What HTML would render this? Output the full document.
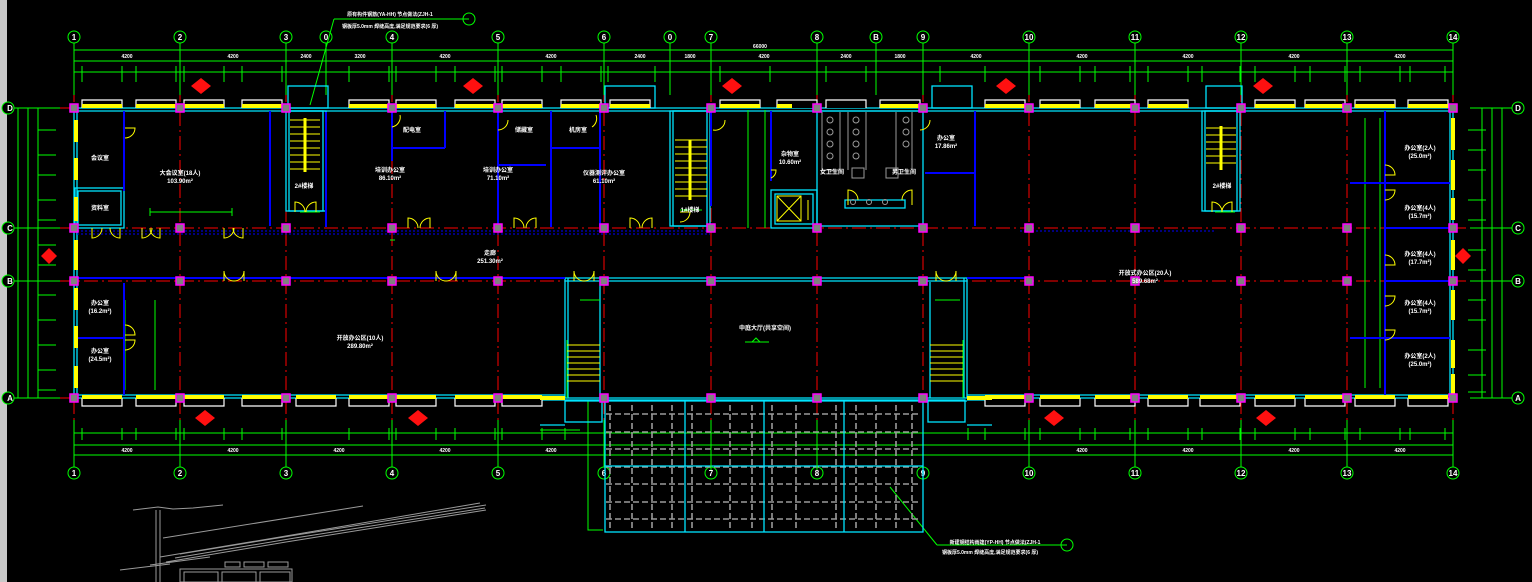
<!DOCTYPE html>
<html><head><meta charset="utf-8"><style>
html,body{margin:0;padding:0;background:#000;}
svg{display:block}
text{font-family:"Liberation Sans","Noto Sans CJK SC",sans-serif;fill:#fff;font-weight:bold;}
</style></head><body>
<svg width="1532" height="582" viewBox="0 0 1532 582" xmlns="http://www.w3.org/2000/svg">
<rect width="1532" height="582" fill="#000"/>
<rect x="0" y="0" width="7" height="582" fill="#c8c8c8"/>

<g stroke="#ff0000" stroke-width="1" stroke-dasharray="14,4,2,4" fill="none">
<line x1="74" y1="88" x2="74" y2="420"/><line x1="180" y1="88" x2="180" y2="420"/><line x1="286" y1="88" x2="286" y2="420"/>
<line x1="392" y1="88" x2="392" y2="420"/><line x1="498" y1="88" x2="498" y2="420"/><line x1="604" y1="88" x2="604" y2="420"/>
<line x1="711" y1="88" x2="711" y2="420"/><line x1="817" y1="88" x2="817" y2="420"/><line x1="923" y1="88" x2="923" y2="420"/>
<line x1="1029" y1="88" x2="1029" y2="420"/><line x1="1135" y1="88" x2="1135" y2="420"/><line x1="1241" y1="88" x2="1241" y2="420"/>
<line x1="1347" y1="88" x2="1347" y2="420"/><line x1="1453" y1="88" x2="1453" y2="420"/>
<line x1="60" y1="228" x2="1470" y2="228"/><line x1="60" y1="281" x2="1470" y2="281"/>
<line x1="60" y1="108" x2="74" y2="108"/><line x1="60" y1="398" x2="74" y2="398"/>
</g>

<g stroke="#00ff00" stroke-width="1" fill="none">
<line x1="74" y1="50" x2="1453" y2="50"/><line x1="74" y1="61" x2="1453" y2="61"/><line x1="74" y1="72" x2="1453" y2="72"/>
<line x1="74" y1="433" x2="1453" y2="433"/><line x1="74" y1="445" x2="1453" y2="445"/><line x1="74" y1="455" x2="1453" y2="455"/>
<line x1="74" y1="43" x2="74" y2="95"/><line x1="180" y1="43" x2="180" y2="95"/><line x1="286" y1="43" x2="286" y2="95"/><line x1="326" y1="43" x2="326" y2="95"/>
<line x1="392" y1="43" x2="392" y2="95"/><line x1="498" y1="43" x2="498" y2="95"/><line x1="604" y1="43" x2="604" y2="95"/><line x1="670" y1="43" x2="670" y2="95"/>
<line x1="711" y1="43" x2="711" y2="95"/><line x1="817" y1="43" x2="817" y2="95"/><line x1="876" y1="43" x2="876" y2="95"/><line x1="923" y1="43" x2="923" y2="95"/>
<line x1="1029" y1="43" x2="1029" y2="95"/><line x1="1135" y1="43" x2="1135" y2="95"/><line x1="1241" y1="43" x2="1241" y2="95"/><line x1="1347" y1="43" x2="1347" y2="95"/><line x1="1453" y1="43" x2="1453" y2="95"/>
<line x1="74" y1="420" x2="74" y2="467"/><line x1="180" y1="420" x2="180" y2="467"/><line x1="286" y1="420" x2="286" y2="467"/><line x1="392" y1="420" x2="392" y2="467"/>
<line x1="498" y1="420" x2="498" y2="467"/><line x1="604" y1="420" x2="604" y2="467"/><line x1="711" y1="420" x2="711" y2="467"/><line x1="817" y1="420" x2="817" y2="467"/>
<line x1="923" y1="420" x2="923" y2="467"/><line x1="1029" y1="420" x2="1029" y2="467"/><line x1="1135" y1="420" x2="1135" y2="467"/><line x1="1241" y1="420" x2="1241" y2="467"/>
<line x1="1347" y1="420" x2="1347" y2="467"/><line x1="1453" y1="420" x2="1453" y2="467"/>
<line x1="8" y1="108" x2="60" y2="108"/><line x1="8" y1="228" x2="60" y2="228"/><line x1="8" y1="281" x2="60" y2="281"/><line x1="8" y1="398" x2="60" y2="398"/>
<line x1="18" y1="108" x2="18" y2="398"/><line x1="28" y1="108" x2="28" y2="398"/><line x1="38" y1="108" x2="38" y2="398"/>
<line x1="1470" y1="108" x2="1512" y2="108"/><line x1="1470" y1="228" x2="1512" y2="228"/><line x1="1470" y1="281" x2="1512" y2="281"/><line x1="1470" y1="398" x2="1512" y2="398"/>
<line x1="1482" y1="108" x2="1482" y2="398"/><line x1="1492" y1="108" x2="1492" y2="398"/><line x1="1502" y1="108" x2="1502" y2="398"/>
<path d="M82 66v16M122 66v16M136 66v16M176 66v16M184 66v16M224 66v16M242 66v16M282 66v16M349 66v16M389 66v16M396 66v16M436 66v16M455 66v16M495 66v16M502 66v16M542 66v16M561 66v16M601 66v16M608 66v16M655 66v16M720 66v16M770 66v16M826 66v16M866 66v16M940 66v16M985 66v16M1040 66v16M1080 66v16M1095 66v16M1130 66v16M1148 66v16M1188 66v16M1202 66v16M1240 66v16M1255 66v16M1295 66v16M1310 66v16M1345 66v16M1360 66v16M1400 66v16M1410 66v16M1445 66v16"/>
<path d="M82 428v12M122 428v12M136 428v12M176 428v12M184 428v12M224 428v12M242 428v12M282 428v12M349 428v12M389 428v12M396 428v12M436 428v12M455 428v12M495 428v12M502 428v12M542 428v12M565 428v12M968 428v12M985 428v12M1025 428v12M1040 428v12M1080 428v12M1095 428v12M1130 428v12M1148 428v12M1188 428v12M1202 428v12M1240 428v12M1255 428v12M1295 428v12M1310 428v12M1345 428v12M1360 428v12M1400 428v12M1410 428v12M1445 428v12"/>
<path d="M38 130h18M38 155h18M38 175h18M38 200h18M38 220h18M38 245h18M38 265h18M38 295h18M38 320h18M38 345h18M38 370h18M38 390h18"/>
<path d="M1468 130h18M1468 150h18M1468 170h18M1468 200h18M1468 220h18M1468 250h18M1468 270h18M1468 300h18M1468 320h18M1468 350h18M1468 375h18M1468 392h18"/>
<g fill="#000">
<circle cx="74" cy="37" r="6"/><circle cx="180" cy="37" r="6"/><circle cx="286" cy="37" r="6"/><circle cx="326" cy="37" r="6"/><circle cx="392" cy="37" r="6"/>
<circle cx="498" cy="37" r="6"/><circle cx="604" cy="37" r="6"/><circle cx="670" cy="37" r="6"/><circle cx="711" cy="37" r="6"/><circle cx="817" cy="37" r="6"/>
<circle cx="876" cy="37" r="6"/><circle cx="923" cy="37" r="6"/><circle cx="1029" cy="37" r="6"/><circle cx="1135" cy="37" r="6"/><circle cx="1241" cy="37" r="6"/>
<circle cx="1347" cy="37" r="6"/><circle cx="1453" cy="37" r="6"/>
<circle cx="74" cy="473" r="6"/><circle cx="180" cy="473" r="6"/><circle cx="286" cy="473" r="6"/><circle cx="392" cy="473" r="6"/><circle cx="498" cy="473" r="6"/>
<circle cx="604" cy="473" r="6"/><circle cx="711" cy="473" r="6"/><circle cx="817" cy="473" r="6"/><circle cx="923" cy="473" r="6"/><circle cx="1029" cy="473" r="6"/>
<circle cx="1135" cy="473" r="6"/><circle cx="1241" cy="473" r="6"/><circle cx="1347" cy="473" r="6"/><circle cx="1453" cy="473" r="6"/>
<circle cx="8" cy="108" r="6"/><circle cx="8" cy="228" r="6"/><circle cx="8" cy="281" r="6"/><circle cx="8" cy="398" r="6"/>
<circle cx="1518" cy="108" r="6"/><circle cx="1518" cy="228" r="6"/><circle cx="1518" cy="281" r="6"/><circle cx="1518" cy="398" r="6"/>
<circle cx="1067" cy="545" r="6"/><circle cx="469" cy="19" r="6"/>
</g>
<path d="M334 19h135M334 19L310 105"/>
<path d="M1067 545h-130M937 545L890 487"/>
<path d="M588 400v130h15M540 430h40"/>
</g>
<g font-size="8" fill="#fff" text-anchor="middle">
<text x="74" y="40">1</text><text x="180" y="40">2</text><text x="286" y="40">3</text><text x="326" y="40">0</text><text x="392" y="40">4</text>
<text x="498" y="40">5</text><text x="604" y="40">6</text><text x="670" y="40">0</text><text x="711" y="40">7</text><text x="817" y="40">8</text>
<text x="876" y="40">B</text><text x="923" y="40">9</text><text x="1029" y="40">10</text><text x="1135" y="40">11</text><text x="1241" y="40">12</text>
<text x="1347" y="40">13</text><text x="1453" y="40">14</text>
<text x="74" y="476">1</text><text x="180" y="476">2</text><text x="286" y="476">3</text><text x="392" y="476">4</text><text x="498" y="476">5</text>
<text x="604" y="476">6</text><text x="711" y="476">7</text><text x="817" y="476">8</text><text x="923" y="476">9</text><text x="1029" y="476">10</text>
<text x="1135" y="476">11</text><text x="1241" y="476">12</text><text x="1347" y="476">13</text><text x="1453" y="476">14</text>
<text x="10" y="111">D</text><text x="10" y="231">C</text><text x="10" y="284">B</text><text x="10" y="401">A</text>
<text x="1518" y="111">D</text><text x="1518" y="231">C</text><text x="1518" y="284">B</text><text x="1518" y="401">A</text>
</g>
<g font-size="5" fill="#fff" text-anchor="middle">
<text x="760" y="48">66000</text>
<text x="127" y="58">4200</text><text x="233" y="58">4200</text><text x="306" y="58">2400</text><text x="360" y="58">3200</text><text x="445" y="58">4200</text>
<text x="551" y="58">4200</text><text x="640" y="58">2400</text><text x="690" y="58">1800</text><text x="764" y="58">4200</text><text x="846" y="58">2400</text>
<text x="900" y="58">1800</text><text x="976" y="58">4200</text><text x="1082" y="58">4200</text><text x="1188" y="58">4200</text><text x="1294" y="58">4200</text><text x="1400" y="58">4200</text>
<text x="127" y="452">4200</text><text x="233" y="452">4200</text><text x="339" y="452">4200</text><text x="445" y="452">4200</text><text x="551" y="452">4200</text>
<text x="1082" y="452">4200</text><text x="1188" y="452">4200</text><text x="1294" y="452">4200</text><text x="1400" y="452">4200</text>
<text x="390" y="16">原有构件钢筋(YA-HH)  节点做法(ZJH-1</text><text x="390" y="28">钢板厚5.0mm  焊缝高度,满足规范要求(6 厚)</text>
<text x="995" y="544">新建钢结构雨篷(YP-HH)  节点做法(ZJH-1</text><text x="990" y="554">钢板厚5.0mm  焊缝高度,满足规范要求(6 厚)</text>
</g>

<g stroke="#9a9a9a" stroke-width="1.6" stroke-dasharray="6,3" fill="none">
<path d="M610 405v125M632 405v125M652 405v125M672 405v125M692 405v125M730 405v125M752 405v125M772 405v125M796 405v125M836 405v125M856 405v125M876 405v125M896 405v125M912 405v125"/>
<path d="M606 414h314M606 432h314M606 449h314M606 467h314M606 484h314M606 502h314M606 519h314"/>
</g>
<g stroke="#00e5ff" stroke-width="1.3" fill="none">
<rect x="605" y="400" width="318" height="132"/>
<path d="M685 400v132M764 400v132M844 400v132M605 466h318"/>
</g>
<g stroke="#00ff00" fill="none"><path d="M711 440v30M817 440v30"/></g>

<g stroke="#00e5ff" stroke-width="1.3" fill="none">
<path d="M74 108h1379M74 111h1379M74 398h491M967 398h486M74 395h491M967 395h486M74 108v290M77 108v290M1453 108v290M1450 108v290"/>
<path d="M565 278h402M565 281h402M565 278v120M568 278v120M967 278v120M964 278v120M600 282v116M930 282v116"/>
<path d="M565 398h402M565 401h402"/>
<rect x="565" y="400" width="37" height="22"/><rect x="928" y="400" width="37" height="22"/>
<path d="M540 400h25M540 425h25M967 400h25M967 425h25"/>
<rect x="286" y="111" width="40" height="100"/><rect x="289" y="111" width="34" height="100"/>
<rect x="670" y="111" width="40" height="115"/><rect x="673" y="111" width="34" height="115"/>
<rect x="1202" y="111" width="38" height="100"/><rect x="1205" y="111" width="32" height="100"/>
<rect x="817" y="111" width="106" height="115"/><rect x="771" y="190" width="46" height="38"/><rect x="775" y="194" width="38" height="30"/>
<path d="M845 200h60v8h-60z"/>
<rect x="75" y="188" width="49" height="40"/><rect x="78" y="191" width="43" height="34"/>
<rect x="932" y="86" width="40" height="22"/><rect x="288" y="86" width="40" height="22"/><rect x="605" y="86" width="50" height="22"/><rect x="1206" y="86" width="36" height="22"/>
</g>
<g stroke="#00ff00" stroke-width="1" fill="none">
<path d="M300 212h20M680 210h22M1215 212h20M748 110v118M765 110v118M1380 118v270M1365 118v270"/>
<path d="M150 212h82M150 208v8M232 208v8M390 240h5M125 300v90M155 300v90M567 340v58M963 340v58M580 300h20M935 300h25"/>
</g>

<g stroke="#0000ff" stroke-width="2" fill="none">
<path d="M77 278h488M967 278h62"/>
<path d="M124 111v80M392 111v50M392 148h53M445 111v37M498 165h48M551 111v116M600 111v116M551 148h49M498 111v116"/>
<path d="M270 111v115M326 112v115M711 111v95"/>
<path d="M771 111v70M975 111v115M925 173h50"/>
<path d="M124 283v112M77 338h47"/>
<path d="M1385 111v287M1385 183h65M1385 228h65M1385 281h65M1385 338h65"/>
<path d="M1350 183h35M1350 338h35"/>
</g>
<g stroke="#0000ff" stroke-width="1" stroke-dasharray="2,2" fill="none"><path d="M77 231h633M77 234h633M1020 231h195"/></g>

<g stroke="#ffff00" stroke-width="1" fill="none">
<path d="M290 120h30M290 127h30M290 134h30M290 141h30M290 148h30M290 155h30M290 162h30M290 169h30"/><line x1="305" y1="118" x2="305" y2="172" stroke-width="3"/>
<path d="M675 140h32M675 147h32M675 154h32M675 161h32M675 168h32M675 175h32M675 182h32M675 189h32M675 196h32"/><line x1="690" y1="140" x2="690" y2="200" stroke-width="3"/>
<path d="M1206 128h30M1206 135h30M1206 142h30M1206 149h30M1206 156h30M1206 163h30"/><line x1="1221" y1="126" x2="1221" y2="170" stroke-width="3"/>
<path d="M567 345h33M567 351h33M567 357h33M567 363h33M567 369h33M567 375h33M567 381h33"/>
<path d="M930 345h33M930 351h33M930 357h33M930 363h33M930 369h33M930 375h33M930 381h33"/>
<rect x="777" y="196" width="24" height="25"/><path d="M777 196l24 25M801 196l-24 25M808 200v20"/>
<path d="M295 212v-10a10 10 0 0 1 10 10M316 212v-10a10 10 0 0 0 -10 10"/>
<path d="M1212 212v-10a10 10 0 0 1 10 10M1232 212v-10a10 10 0 0 0 -10 10"/>
<path d="M92 228v10a10 10 0 0 0 10 -10M120 228v10a10 10 0 0 1 -10 -10"/>
<path d="M142 228v10a10 10 0 0 0 10 -10M160 228v10a10 10 0 0 1 -10 -10"/>
<path d="M224 228v10a10 10 0 0 0 10 -10M243 228v10a10 10 0 0 1 -10 -10"/>
<path d="M408 228v-10a10 10 0 0 1 10 10M430 228v-10a10 10 0 0 0 -10 10"/>
<path d="M514 228v-10a10 10 0 0 1 10 10M536 228v-10a10 10 0 0 0 -10 10"/>
<path d="M630 228v-10a10 10 0 0 1 10 10M652 228v-10a10 10 0 0 0 -10 10"/>
<path d="M224 281v-10a10 10 0 0 0 10 10M244 281v-10a10 10 0 0 1 -10 10"/>
<path d="M436 281v-10a10 10 0 0 0 10 10M456 281v-10a10 10 0 0 1 -10 10"/>
<path d="M574 281v-10a10 10 0 0 0 10 10M594 281v-10a10 10 0 0 1 -10 10"/>
<path d="M936 281v-10a10 10 0 0 0 10 10M956 281v-10a10 10 0 0 1 -10 10"/>
<path d="M125 128h10a10 10 0 0 1 -10 10"/><path d="M400 115a10 10 0 0 1 -8 12"/><path d="M508 120a10 10 0 0 1 -10 10"/><path d="M596 115a10 10 0 0 1 -4 12"/>
<path d="M125 335h10a10 10 0 0 0 -10 -10M125 340h10a10 10 0 0 1 -10 10"/>
<path d="M1385 175h10a10 10 0 0 0 -10 -10M1385 190h10a10 10 0 0 1 -10 10M1385 265h10a10 10 0 0 0 -10 -10M1385 296h10a10 10 0 0 1 -10 10M1385 330h10a10 10 0 0 1 -10 10"/>
<path d="M771 170h5a8 8 0 0 1 -5 8"/><path d="M848 205v-15a10 10 0 0 1 10 10"/><path d="M912 205v-15a10 10 0 0 0 -10 10"/>
<path d="M725 120a10 10 0 0 1 -12 10"/><path d="M930 120a10 10 0 0 1 -10 10"/><path d="M680 212h10a10 10 0 0 1 -10 10"/>
</g>
<g stroke="#9a9a9a" stroke-width="1" fill="none">
<path d="M822 112v58h18v-58M848 112v58M866 112v58M896 112v58M912 112v58"/>
<circle cx="830" cy="120" r="3"/><circle cx="830" cy="132" r="3"/><circle cx="830" cy="144" r="3"/><circle cx="830" cy="156" r="3"/>
<circle cx="856" cy="120" r="3"/><circle cx="856" cy="132" r="3"/><circle cx="856" cy="144" r="3"/><circle cx="856" cy="156" r="3"/>
<circle cx="906" cy="120" r="3"/><circle cx="906" cy="132" r="3"/><circle cx="906" cy="144" r="3"/>
<rect x="852" y="168" width="12" height="10"/><rect x="886" y="168" width="12" height="10"/>
<circle cx="853" cy="202" r="2.5"/><circle cx="869" cy="202" r="2.5"/><circle cx="885" cy="202" r="2.5"/>
</g>

<g fill="#000" stroke="#fff" stroke-width="1.2">
<path d="M82 108v-8h40v8M136 108v-8h40v8M184 108v-8h40v8M242 108v-8h40v8M349 108v-8h40v8M396 108v-8h40v8M455 108v-8h40v8M502 108v-8h40v8M561 108v-8h40v8M610 108v-8h40v8M720 108v-8h40v8M777 108v-8h40v8M826 108v-8h40v8M880 108v-8h40v8M985 108v-8h40v8M1040 108v-8h40v8M1095 108v-8h40v8M1148 108v-8h40v8M1255 108v-8h40v8M1305 108v-8h40v8M1355 108v-8h40v8M1408 108v-8h40v8"/>
<path d="M82 398v8h40v-8M136 398v8h40v-8M184 398v8h40v-8M242 398v8h40v-8M296 398v8h40v-8M349 398v8h40v-8M396 398v8h40v-8M455 398v8h40v-8M502 398v8h40v-8M985 398v8h40v-8M1040 398v8h40v-8M1095 398v8h40v-8M1148 398v8h40v-8M1200 398v8h40v-8M1255 398v8h40v-8M1305 398v8h40v-8M1355 398v8h40v-8M1408 398v8h40v-8"/>
</g>
<g fill="#ffff00">
<rect x="82" y="104" width="40" height="4"/><rect x="136" y="104" width="40" height="4"/><rect x="184" y="104" width="40" height="4"/><rect x="242" y="104" width="40" height="4"/>
<rect x="349" y="104" width="40" height="4"/><rect x="396" y="104" width="40" height="4"/><rect x="455" y="104" width="40" height="4"/><rect x="502" y="104" width="40" height="4"/>
<rect x="561" y="104" width="40" height="4"/><rect x="610" y="104" width="40" height="4"/><rect x="720" y="104" width="40" height="4"/><rect x="777" y="104" width="15" height="4"/>
<rect x="880" y="104" width="40" height="4"/><rect x="985" y="104" width="40" height="4"/><rect x="1040" y="104" width="40" height="4"/><rect x="1095" y="104" width="40" height="4"/>
<rect x="1148" y="104" width="40" height="4"/><rect x="1255" y="104" width="40" height="4"/><rect x="1305" y="104" width="40" height="4"/><rect x="1355" y="104" width="40" height="4"/><rect x="1408" y="104" width="40" height="4"/>
<rect x="82" y="395" width="40" height="4"/><rect x="136" y="395" width="40" height="4"/><rect x="184" y="395" width="40" height="4"/><rect x="242" y="395" width="40" height="4"/>
<rect x="296" y="395" width="40" height="4"/><rect x="349" y="395" width="40" height="4"/><rect x="396" y="395" width="40" height="4"/><rect x="455" y="395" width="40" height="4"/><rect x="502" y="395" width="40" height="4"/>
<rect x="985" y="395" width="40" height="4"/><rect x="1040" y="395" width="40" height="4"/><rect x="1095" y="395" width="40" height="4"/><rect x="1148" y="395" width="40" height="4"/>
<rect x="1200" y="395" width="40" height="4"/><rect x="1255" y="395" width="40" height="4"/><rect x="1305" y="395" width="40" height="4"/><rect x="1355" y="395" width="40" height="4"/><rect x="1408" y="395" width="40" height="4"/>
<rect x="74" y="120" width="4" height="22"/><rect x="74" y="158" width="4" height="22"/><rect x="74" y="197" width="4" height="24"/><rect x="74" y="240" width="4" height="30"/>
<rect x="74" y="288" width="4" height="22"/><rect x="74" y="326" width="4" height="22"/><rect x="74" y="366" width="4" height="22"/>
<rect x="1451" y="118" width="4" height="32"/><rect x="1451" y="160" width="4" height="30"/><rect x="1451" y="198" width="4" height="22"/><rect x="1451" y="240" width="4" height="30"/>
<rect x="1451" y="290" width="4" height="30"/><rect x="1451" y="340" width="4" height="28"/><rect x="1451" y="374" width="4" height="20"/>
<rect x="540" y="396" width="25" height="4"/><rect x="967" y="396" width="25" height="4"/>
</g>

<g fill="#808080" stroke="#ff00ff" stroke-width="1.5">
<rect x="70" y="104" width="8" height="8"/><rect x="176" y="104" width="8" height="8"/><rect x="282" y="104" width="8" height="8"/><rect x="388" y="104" width="8" height="8"/><rect x="494" y="104" width="8" height="8"/><rect x="600" y="104" width="8" height="8"/><rect x="707" y="104" width="8" height="8"/><rect x="813" y="104" width="8" height="8"/><rect x="919" y="104" width="8" height="8"/><rect x="1025" y="104" width="8" height="8"/><rect x="1131" y="104" width="8" height="8"/><rect x="1237" y="104" width="8" height="8"/><rect x="1343" y="104" width="8" height="8"/><rect x="1449" y="104" width="8" height="8"/>
<rect x="70" y="224" width="8" height="8"/><rect x="176" y="224" width="8" height="8"/><rect x="282" y="224" width="8" height="8"/><rect x="388" y="224" width="8" height="8"/><rect x="494" y="224" width="8" height="8"/><rect x="600" y="224" width="8" height="8"/><rect x="707" y="224" width="8" height="8"/><rect x="813" y="224" width="8" height="8"/><rect x="919" y="224" width="8" height="8"/><rect x="1025" y="224" width="8" height="8"/><rect x="1131" y="224" width="8" height="8"/><rect x="1237" y="224" width="8" height="8"/><rect x="1343" y="224" width="8" height="8"/><rect x="1449" y="224" width="8" height="8"/>
<rect x="70" y="277" width="8" height="8"/><rect x="176" y="277" width="8" height="8"/><rect x="282" y="277" width="8" height="8"/><rect x="388" y="277" width="8" height="8"/><rect x="494" y="277" width="8" height="8"/><rect x="600" y="277" width="8" height="8"/><rect x="707" y="277" width="8" height="8"/><rect x="813" y="277" width="8" height="8"/><rect x="919" y="277" width="8" height="8"/><rect x="1025" y="277" width="8" height="8"/><rect x="1131" y="277" width="8" height="8"/><rect x="1237" y="277" width="8" height="8"/><rect x="1343" y="277" width="8" height="8"/><rect x="1449" y="277" width="8" height="8"/>
<rect x="70" y="394" width="8" height="8"/><rect x="176" y="394" width="8" height="8"/><rect x="282" y="394" width="8" height="8"/><rect x="388" y="394" width="8" height="8"/><rect x="494" y="394" width="8" height="8"/><rect x="600" y="394" width="8" height="8"/><rect x="707" y="394" width="8" height="8"/><rect x="813" y="394" width="8" height="8"/><rect x="919" y="394" width="8" height="8"/><rect x="1025" y="394" width="8" height="8"/><rect x="1131" y="394" width="8" height="8"/><rect x="1237" y="394" width="8" height="8"/><rect x="1343" y="394" width="8" height="8"/><rect x="1449" y="394" width="8" height="8"/>
</g>

<g fill="#ff1010">
<path d="M201 78l10 8-10 8-10-8z"/><path d="M473 78l10 8-10 8-10-8z"/><path d="M732 78l10 8-10 8-10-8z"/><path d="M1006 78l10 8-10 8-10-8z"/><path d="M1263 78l10 8-10 8-10-8z"/>
<path d="M205 410l10 8-10 8-10-8z"/><path d="M418 410l10 8-10 8-10-8z"/><path d="M1054 410l10 8-10 8-10-8z"/><path d="M1266 410l10 8-10 8-10-8z"/>
<path d="M49 248l8 8-8 8-8-8z"/><path d="M1463 248l8 8-8 8-8-8z"/>
</g>

<g font-size="6" fill="#fff" text-anchor="middle">
<text x="100" y="160">会议室</text><text x="100" y="210">资料室</text>
<text x="180" y="175">大会议室(18人)</text><text x="180" y="183">103.90m²</text>
<text x="390" y="172">培训办公室</text><text x="390" y="180">86.10m²</text>
<text x="498" y="172">培训办公室</text><text x="498" y="180">71.10m²</text>
<text x="604" y="175">仪器测评办公室</text><text x="604" y="183">61.10m²</text>
<text x="412" y="132">配电室</text><text x="524" y="132">储藏室</text><text x="578" y="132">机房室</text>
<text x="304" y="188">2#楼梯</text><text x="690" y="212">1#楼梯</text><text x="1222" y="188">2#楼梯</text>
<text x="790" y="156">杂物室</text><text x="790" y="164">10.60m²</text>
<text x="832" y="174">女卫生间</text><text x="904" y="174">男卫生间</text>
<text x="946" y="140">办公室</text><text x="946" y="148">17.86m²</text>
<text x="490" y="255">走廊</text><text x="490" y="263">251.30m²</text>
<text x="1145" y="275">开放式办公区(20人)</text><text x="1145" y="283">589.68m²</text>
<text x="360" y="340">开放办公区(10人)</text><text x="360" y="348">289.80m²</text>
<text x="100" y="305">办公室</text><text x="100" y="313">(16.2m²)</text>
<text x="100" y="353">办公室</text><text x="100" y="361">(24.5m²)</text>
<text x="765" y="330">中庭大厅(共享空间)</text>
<text x="1420" y="150">办公室(2人)</text><text x="1420" y="158">(25.0m²)</text>
<text x="1420" y="210">办公室(4人)</text><text x="1420" y="218">(15.7m²)</text>
<text x="1420" y="256">办公室(4人)</text><text x="1420" y="264">(17.7m²)</text>
<text x="1420" y="305">办公室(4人)</text><text x="1420" y="313">(15.7m²)</text>
<text x="1420" y="358">办公室(2人)</text><text x="1420" y="366">(25.0m²)</text>
</g>
<g stroke="#00ff00" fill="none"><path d="M745 342h24M760 342l-4-4-4 4"/></g>

<g stroke="#9a9a9a" stroke-width="1" fill="none">
<path d="M133 510l25-3 15 2 20-1 30-3M156 510v72M160 510v72M163 538l200-32M160 557l120-20 200-34M166 562l120-20 200-32M150 565l60-8M120 570l50-6"/>
<path d="M175 558l120-20 190-30M180 554l110-18 196-31"/>
<rect x="180" y="569" width="112" height="13"/><rect x="184" y="572" width="34" height="10"/><rect x="222" y="572" width="34" height="10"/><rect x="260" y="572" width="30" height="10"/>
<rect x="225" y="562" width="15" height="5"/><rect x="244" y="562" width="20" height="5"/><rect x="268" y="562" width="20" height="5"/>
</g>
</svg>
</body></html>
